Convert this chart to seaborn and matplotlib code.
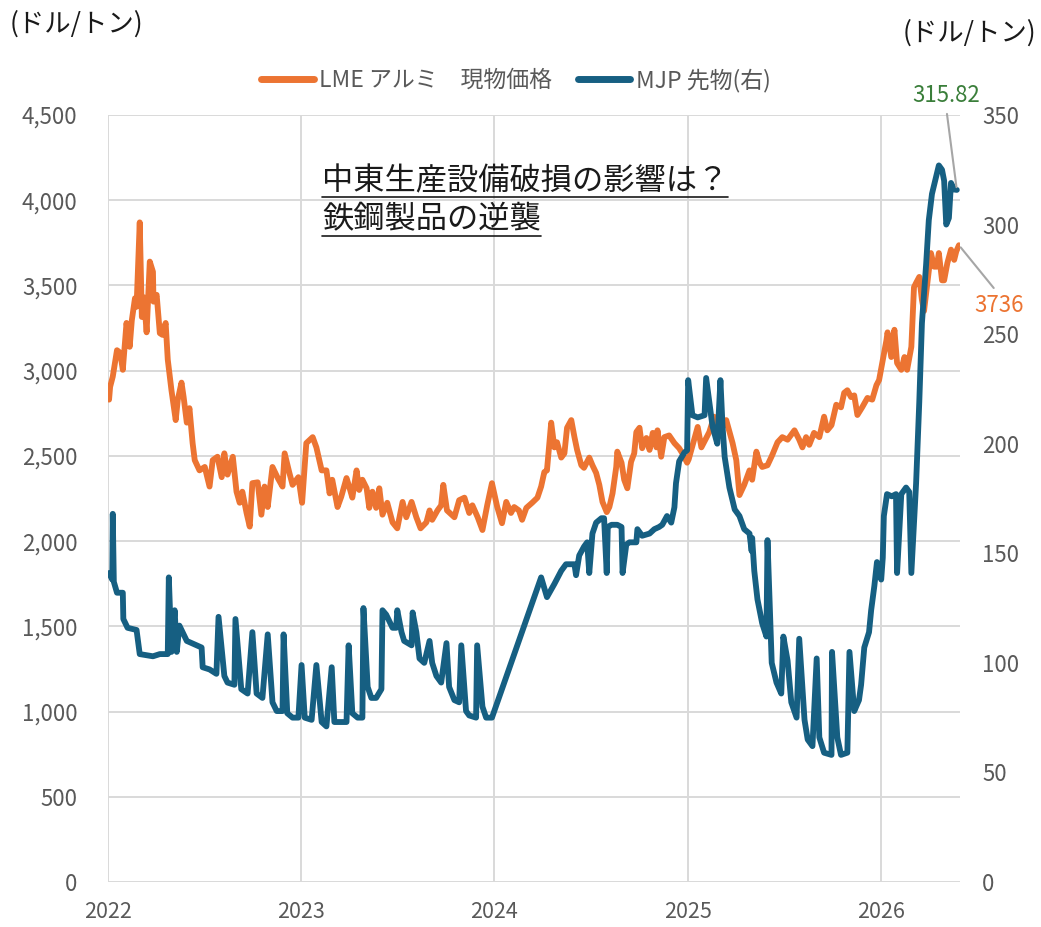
import matplotlib
matplotlib.use("Agg")
import matplotlib.pyplot as plt
from matplotlib.lines import Line2D
import seaborn as sns
import pandas as pd

# ---------------- data ----------------
lme_dates = [
    "2022-01-03", "2022-01-05", "2022-01-10", "2022-01-18", "2022-01-24", "2022-01-29",
    "2022-02-05", "2022-02-11", "2022-02-15", "2022-02-21", "2022-02-24", "2022-03-02",
    "2022-03-06", "2022-03-10", "2022-03-15", "2022-03-21", "2022-03-27", "2022-03-28",
    "2022-04-03", "2022-04-09", "2022-04-14", "2022-04-20", "2022-04-24", "2022-05-01",
    "2022-05-09", "2022-05-13", "2022-05-20", "2022-05-24", "2022-05-30", "2022-06-04",
    "2022-06-10", "2022-06-14", "2022-06-23", "2022-07-03", "2022-07-12", "2022-07-18",
    "2022-07-27", "2022-08-04", "2022-08-09", "2022-08-15", "2022-08-25", "2022-09-01",
    "2022-09-07", "2022-09-12", "2022-09-20", "2022-09-26", "2022-10-01", "2022-10-11",
    "2022-10-18", "2022-10-24", "2022-10-30", "2022-11-08", "2022-11-18", "2022-11-27",
    "2022-12-01", "2022-12-10", "2022-12-16", "2022-12-27",
    "2023-01-03", "2023-01-11", "2023-01-23", "2023-01-30", "2023-02-09", "2023-02-18",
    "2023-02-24", "2023-03-01", "2023-03-11", "2023-03-18", "2023-03-28", "2023-04-02",
    "2023-04-08", "2023-04-16", "2023-04-21", "2023-04-27", "2023-05-05", "2023-05-10",
    "2023-05-16", "2023-05-23", "2023-05-29", "2023-06-04", "2023-06-13", "2023-06-23",
    "2023-07-02", "2023-07-12", "2023-07-19", "2023-07-29", "2023-08-07", "2023-08-15",
    "2023-08-26", "2023-09-01", "2023-09-06", "2023-09-16", "2023-09-23", "2023-09-27",
    "2023-10-04", "2023-10-18", "2023-10-27", "2023-11-06", "2023-11-15", "2023-11-21",
    "2023-12-01", "2023-12-10", "2023-12-19", "2023-12-28",
    "2024-01-07", "2024-01-16", "2024-01-24", "2024-02-02", "2024-02-08", "2024-02-17",
    "2024-02-23", "2024-03-02", "2024-03-13", "2024-03-23", "2024-03-30", "2024-04-05",
    "2024-04-10", "2024-04-18", "2024-04-24", "2024-04-29", "2024-05-07", "2024-05-13",
    "2024-05-18", "2024-05-26", "2024-06-01", "2024-06-06", "2024-06-14", "2024-06-19",
    "2024-06-29", "2024-07-05", "2024-07-12", "2024-07-18", "2024-07-24", "2024-08-01",
    "2024-08-06", "2024-08-12", "2024-08-19", "2024-08-21", "2024-08-29", "2024-09-03",
    "2024-09-09", "2024-09-16", "2024-09-22", "2024-09-26", "2024-10-02", "2024-10-07",
    "2024-10-15", "2024-10-21", "2024-10-27", "2024-11-03", "2024-11-05", "2024-11-12",
    "2024-11-18", "2024-11-27", "2024-12-07", "2024-12-16", "2024-12-22", "2024-12-31",
    "2025-01-03", "2025-01-20", "2025-01-27", "2025-02-11", "2025-02-20", "2025-03-02",
    "2025-03-15", "2025-03-27", "2025-04-03", "2025-04-09", "2025-04-18", "2025-04-28",
    "2025-05-03", "2025-05-11", "2025-05-17", "2025-05-22", "2025-06-01", "2025-06-10",
    "2025-06-20", "2025-06-29", "2025-07-09", "2025-07-22", "2025-07-31", "2025-08-06",
    "2025-08-13", "2025-08-19", "2025-08-28", "2025-09-07", "2025-09-16", "2025-09-22",
    "2025-09-30", "2025-10-09", "2025-10-18", "2025-10-24", "2025-10-30", "2025-11-06",
    "2025-11-12", "2025-11-18", "2025-11-27", "2025-12-07", "2025-12-16", "2025-12-24",
    "2025-12-29",
    "2026-01-04", "2026-01-12", "2026-01-14", "2026-01-21", "2026-01-27", "2026-02-01",
    "2026-02-09", "2026-02-15", "2026-02-20", "2026-02-28", "2026-03-05", "2026-03-09",
    "2026-03-15", "2026-03-20", "2026-03-24", "2026-04-06", "2026-04-12", "2026-04-17",
    "2026-04-21", "2026-04-27", "2026-05-01", "2026-05-07", "2026-05-14", "2026-05-20",
    "2026-05-24", "2026-05-29",
]
lme_values = [
    2830, 2905, 2965, 3120, 3105, 3005,
    3280, 3140, 3295, 3425, 3375, 3870,
    3315, 3430, 3225, 3640, 3580, 3405,
    3445, 3220, 3210, 3280, 3065, 2885,
    2710, 2830, 2930, 2845, 2695, 2780,
    2575, 2475, 2415, 2435, 2320, 2475,
    2495, 2375, 2515, 2390, 2495, 2290,
    2225, 2290, 2165, 2085, 2340, 2345,
    2155, 2320, 2200, 2435, 2370, 2320,
    2515, 2400, 2330, 2375,
    2225, 2575, 2610, 2550, 2415, 2415,
    2280, 2360, 2200, 2260, 2370, 2320,
    2255, 2415, 2300, 2360, 2310, 2195,
    2290, 2195, 2310, 2155, 2225, 2110,
    2075, 2230, 2140, 2230, 2140, 2075,
    2110, 2180, 2125, 2180, 2210, 2330,
    2180, 2140, 2240, 2255, 2165, 2210,
    2140, 2065, 2210, 2340,
    2200, 2105, 2230, 2165, 2200, 2180,
    2125, 2195, 2225, 2255, 2320, 2405,
    2415, 2695, 2550, 2580, 2490, 2515,
    2665, 2710, 2610, 2535, 2445, 2430,
    2490, 2445, 2400, 2330, 2230, 2170,
    2200, 2280, 2435, 2525, 2460, 2360,
    2310, 2465, 2515, 2640, 2665, 2545,
    2605, 2535, 2635, 2550, 2650, 2495,
    2610, 2620, 2575, 2545, 2515, 2460,
    2480, 2670, 2550, 2640, 2730, 2635,
    2710, 2575, 2475, 2270, 2330, 2415,
    2360, 2525, 2460, 2435, 2445, 2505,
    2580, 2610, 2595, 2650, 2595, 2550,
    2610, 2565, 2635, 2610, 2730, 2650,
    2680, 2800, 2785, 2870, 2885, 2845,
    2855, 2740, 2785, 2840, 2830, 2915,
    2945,
    3045, 3180, 3225, 3080, 3240, 3045,
    3005, 3080, 3005, 3140, 3490, 3515,
    3550, 3415, 3350, 3690, 3610, 3610,
    3690, 3530, 3530, 3630, 3710, 3650,
    3700, 3736,
]

mjp_dates = [
    "2022-01-03", "2022-01-09", "2022-01-10", "2022-01-12", "2022-01-18", "2022-01-29",
    "2022-01-30", "2022-02-07", "2022-02-24", "2022-03-02", "2022-03-27", "2022-04-09",
    "2022-04-24", "2022-04-26", "2022-05-01", "2022-05-07", "2022-05-11", "2022-05-16",
    "2022-05-26", "2022-05-30", "2022-06-18", "2022-06-27", "2022-06-29", "2022-07-12",
    "2022-07-25", "2022-07-29", "2022-08-09", "2022-08-15", "2022-08-28", "2022-08-30",
    "2022-09-10", "2022-09-22", "2022-10-01", "2022-10-09", "2022-10-20", "2022-10-30",
    "2022-11-08", "2022-11-16", "2022-11-27", "2022-11-29", "2022-12-06", "2022-12-16",
    "2022-12-27",
    "2023-01-02", "2023-01-08", "2023-01-21", "2023-01-30", "2023-02-09", "2023-02-18",
    "2023-02-28", "2023-03-05", "2023-03-28", "2023-04-01", "2023-04-08", "2023-04-18",
    "2023-04-27", "2023-04-29", "2023-05-07", "2023-05-14", "2023-05-23", "2023-06-02",
    "2023-06-04", "2023-06-11", "2023-06-23", "2023-06-30", "2023-07-02", "2023-07-10",
    "2023-07-15", "2023-07-29", "2023-07-31", "2023-08-07", "2023-08-13", "2023-08-22",
    "2023-09-01", "2023-09-06", "2023-09-14", "2023-09-23", "2023-10-03", "2023-10-08",
    "2023-10-18", "2023-10-27", "2023-10-31", "2023-11-09", "2023-11-15", "2023-11-28",
    "2023-11-30", "2023-12-10", "2023-12-17", "2023-12-28",
    "2024-03-30", "2024-04-10", "2024-04-24", "2024-05-07", "2024-05-16", "2024-06-01",
    "2024-06-04", "2024-06-10", "2024-06-19", "2024-06-25", "2024-06-29", "2024-07-05",
    "2024-07-12", "2024-07-22", "2024-07-27", "2024-08-01", "2024-08-03", "2024-08-10",
    "2024-08-21", "2024-08-29", "2024-08-31", "2024-09-07", "2024-09-13", "2024-09-26",
    "2024-09-28", "2024-10-07", "2024-10-21", "2024-10-30", "2024-11-08", "2024-11-14",
    "2024-11-23", "2024-12-01", "2024-12-07", "2024-12-10", "2024-12-16", "2024-12-26",
    "2024-12-31",
    "2025-01-02", "2025-01-10", "2025-01-20", "2025-02-02", "2025-02-05", "2025-02-11",
    "2025-02-17", "2025-02-26", "2025-03-04", "2025-03-08", "2025-03-12", "2025-03-21",
    "2025-03-31", "2025-04-09", "2025-04-18", "2025-04-28", "2025-05-02", "2025-05-03",
    "2025-05-07", "2025-05-13", "2025-05-22", "2025-05-30", "2025-06-01", "2025-06-09",
    "2025-06-18", "2025-06-27", "2025-07-01", "2025-07-09", "2025-07-16", "2025-07-26",
    "2025-07-31", "2025-08-10", "2025-08-16", "2025-08-25", "2025-09-02", "2025-09-07",
    "2025-09-16", "2025-09-30", "2025-10-01", "2025-10-11", "2025-10-18", "2025-10-30",
    "2025-11-03", "2025-11-12", "2025-11-21", "2025-11-25", "2025-12-01", "2025-12-10",
    "2025-12-14", "2025-12-20", "2025-12-25",
    "2026-01-02", "2026-01-05", "2026-01-07", "2026-01-13", "2026-01-22", "2026-01-30",
    "2026-02-01", "2026-02-09", "2026-02-18", "2026-02-24", "2026-02-28", "2026-03-09",
    "2026-03-15", "2026-03-20", "2026-03-28", "2026-04-02", "2026-04-08", "2026-04-16",
    "2026-04-21", "2026-04-27", "2026-05-01", "2026-05-05", "2026-05-10", "2026-05-14",
    "2026-05-20", "2026-05-25",
]
mjp_values = [
    141, 138, 168, 137, 132, 132,
    120, 116, 115, 104, 103, 104,
    104, 139, 105, 124, 105, 117,
    112, 110, 108, 107, 98, 97,
    95, 121, 94, 91, 90, 120,
    88, 86, 114, 86, 84, 113,
    82, 78, 78, 113, 77, 75,
    75,
    99, 75, 74, 99, 73, 71,
    98, 73, 73, 108, 77, 75,
    75, 125, 89, 84, 84, 88,
    124, 122, 116, 116, 124, 114,
    110, 108, 123, 114, 102, 100,
    110, 100, 94, 91, 109, 89,
    83, 82, 108, 78, 76, 75,
    108, 80, 75, 75,
    139, 130, 136, 142, 145, 145,
    140, 149, 153, 155, 141, 159,
    164, 166, 166, 141, 162, 163,
    163, 162, 141, 154, 155, 155,
    161, 158, 159, 161, 162, 163,
    167, 164, 171, 182, 192, 196,
    197,
    229, 213, 212, 213, 230, 219,
    208, 200, 229, 208, 194, 180,
    170, 167, 161, 159, 151, 157,
    142, 129, 118, 112, 156, 100,
    91, 86, 112, 101, 82, 75,
    111, 74, 65, 62, 102, 66,
    59, 58, 105, 66, 58, 59,
    105, 78, 83, 90, 107, 114,
    124, 135, 146,
    138, 148, 167, 177, 176, 177,
    141, 177, 180, 178, 141, 182,
    219, 255, 282, 302, 314, 322,
    327, 325, 320, 300, 303, 319,
    316, 315.82,
]

years = ["2022", "2023", "2024", "2025", "2026"]
left_ticks = [0, 500, 1000, 1500, 2000, 2500, 3000, 3500, 4000, 4500]
right_ticks = [0, 50, 100, 150, 200, 250, 300, 350]
unit_label = "(ドル/トン)"
lme_label = "LME アルミ　現物価格"
mjp_label = "MJP 先物(右)"
note_lines = ["中東生産設備破損の影響は？", "鉄鋼製品の逆襲"]
lme_last_label = "3736"
mjp_last_label = "315.82"

# ---------------- style ----------------
ORANGE = "#EC7432"
BLUE = "#165F82"
GRID = "#D9D9D9"
TICK = "#595959"

sns.set_theme(style="white")
plt.rcParams["font.family"] = ["Noto Sans CJK JP", "DejaVu Sans"]

W, H = 1041, 927
fig = plt.figure(figsize=(W / 100, H / 100), dpi=100)
ax = fig.add_axes([108 / W, 1 - 882 / H, (960 - 108) / W, (882 - 115) / H])
ax2 = ax.twinx()

lme = pd.DataFrame({"date": pd.to_datetime(lme_dates), "value": lme_values})
mjp = pd.DataFrame({"date": pd.to_datetime(mjp_dates), "value": mjp_values})

sns.lineplot(data=lme, x="date", y="value", ax=ax, color=ORANGE, linewidth=4.2,
             estimator=None, legend=False)
sns.lineplot(data=mjp, x="date", y="value", ax=ax2, color=BLUE, linewidth=4.2,
             estimator=None, legend=False)
for a in (ax, ax2):
    for ln in a.get_lines():
        ln.set_solid_joinstyle("round")
        ln.set_solid_capstyle("round")

ax.set_xlim(pd.Timestamp("2022-01-01"), pd.Timestamp("2026-05-31"))
ax.set_ylim(0, 4500)
ax2.set_ylim(0, 350)

ax.set_xticks(pd.to_datetime([f"{y}-01-01" for y in years]))
ax.set_xticklabels(years)
ax.set_yticks(left_ticks)
ax.set_yticklabels([f"{v:,}" for v in left_ticks])
ax2.set_yticks(right_ticks)
ax2.set_yticklabels([str(v) for v in right_ticks])

ax.grid(True, color=GRID, linewidth=1.4)
ax2.grid(False)
ax.set_axisbelow(True)
for a in (ax, ax2):
    for s in a.spines.values():
        s.set_visible(False)
    a.set_xlabel("")
    a.set_ylabel("")

ax.tick_params(axis="y", length=0, pad=22, labelsize=16, labelcolor=TICK)
ax.tick_params(axis="x", length=0, pad=14, labelsize=15.5, labelcolor=TICK)
ax2.tick_params(axis="y", length=0, pad=16, labelsize=16, labelcolor=TICK)

# unit labels
fig.text(10 / W, 1 - 24 / H, unit_label, fontsize=19, ha="left", va="center", color="#1a1a1a")
fig.text(1036 / W, 1 - 33 / H, unit_label, fontsize=19, ha="right", va="center", color="#1a1a1a")

# legend
handles = [
    Line2D([0], [0], color=ORANGE, lw=5, solid_capstyle="round"),
    Line2D([0], [0], color=BLUE, lw=5, solid_capstyle="round"),
]
fig.legend(handles, [lme_label, mjp_label], loc="center",
           bbox_to_anchor=(516 / W, 1 - 80 / H), ncol=2, frameon=False,
           fontsize=16.5, labelcolor=TICK, handlelength=2.3, handletextpad=0.25,
           columnspacing=1.1)

# note with underline
note_texts = [
    fig.text(322 / W, 1 - 181 / H, note_lines[0], fontsize=22.5, ha="left", va="center", color="#1a1a1a"),
    fig.text(322 / W, 1 - 219 / H, note_lines[1], fontsize=22.5, ha="left", va="center", color="#1a1a1a"),
]
underline_y = [197, 236]

# end-value annotations
ax2.annotate(mjp_last_label, xy=(mjp["date"].iloc[-1], mjp["value"].iloc[-1]),
             xytext=(946, H - 95), textcoords="figure pixels",
             ha="center", va="center", fontsize=16, color="#3A7E3A",
             arrowprops=dict(arrowstyle="-", color="#A6A6A6", lw=1.5,
                             shrinkA=3, shrinkB=2, relpos=(0.5, 0.0)),
             annotation_clip=False)
ax.annotate(lme_last_label, xy=(lme["date"].iloc[-1], lme["value"].iloc[-1]),
            xytext=(999, H - 306), textcoords="figure pixels",
            ha="center", va="center", fontsize=16, color=ORANGE,
            arrowprops=dict(arrowstyle="-", color="#A6A6A6", lw=1.5,
                            shrinkA=3, shrinkB=2, relpos=(0.5, 1.0)),
            annotation_clip=False)

fig.canvas.draw()
renderer = fig.canvas.get_renderer()
for t, uy in zip(note_texts, underline_y):
    bb = t.get_window_extent(renderer)
    fig.add_artist(Line2D([bb.x0 / W, bb.x1 / W], [1 - uy / H, 1 - uy / H],
                          transform=fig.transFigure, color="#1a1a1a", lw=1.2))

fig.savefig("out.png", dpi=100)
